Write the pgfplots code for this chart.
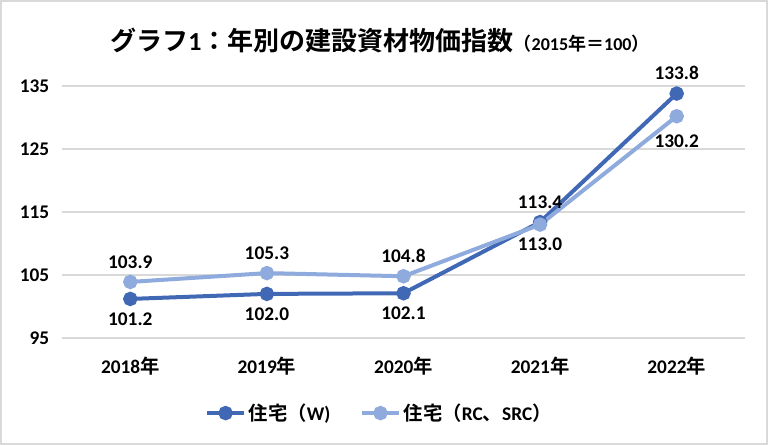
\documentclass[border=0pt]{standalone}
\usepackage{pgfplots}
\pgfplotsset{compat=1.18}
\usepackage{pgfplotstable}
\usepackage{fontspec}
\setmainfont{Carlito}
\newfontfamily\jp{Noto Sans CJK JP}[BoldFont={* Bold}]
\definecolor{cW}{RGB}{64,104,181}
\definecolor{cR}{RGB}{143,170,220}
\definecolor{gridc}{RGB}{217,217,217}

\pgfplotstableread{
x y
0 101.2
1 102.0
2 102.1
3 113.4
4 133.8
}\Wdata
\pgfplotstableread{
x y
0 103.9
1 105.3
2 104.8
3 113.0
4 130.2
}\Rdata

\begin{document}
\begin{tikzpicture}[x=1pt,y=1pt]
\useasboundingbox (0,0) rectangle (576,333.75);
\draw[gridc, line width=1.2pt] (0.6,0.6) rectangle (575.4,333.15);
\node[font=\bfseries] at (285,303.5) {{\jp\fontsize{19.5}{22}\selectfont グラフ}{\fontsize{19.5}{22}\selectfont 1}{\jp\fontsize{19.5}{22}\selectfont ：年別の建設資材物価指数}{\jp\fontsize{13.5}{15}\selectfont （}{\fontsize{13.5}{15}\selectfont 2015}{\jp\fontsize{13.5}{15}\selectfont 年＝}{\fontsize{13.5}{15}\selectfont 100}{\jp\fontsize{13.5}{15}\selectfont ）}};
\begin{axis}[
  at={(46.5pt,80.25pt)}, anchor=south west,
  scale only axis, width=512.25pt, height=189pt,
  xmin=-0.5, xmax=4.5, ymin=95, ymax=135,
  xtick={0,1,2,3,4},
  xticklabels={2018{\jp 年},2019{\jp 年},2020{\jp 年},2021{\jp 年},2022{\jp 年}},
  ytick={95,105,115,125,135},
  ymajorgrids, grid style={gridc, line width=0.9pt},
  axis line style={draw=none},
  major tick length=0pt,
  tick label style={font=\fontsize{14.5}{16}\selectfont\bfseries},
  /pgf/number format/assume math mode=true,
  yticklabel style={xshift=-6pt},
  xticklabel style={yshift=-11pt},
  clip=false,
  legend style={at={(0.465,-0.298)}, anchor=center, draw=none, fill=none,
    legend columns=2, font=\fontsize{14.5}{16}\selectfont\bfseries,
    /tikz/every even column/.append style={column sep=20pt}},
  legend image code/.code={\draw[mark repeat=2,mark phase=2,#1] plot coordinates {(0pt,0pt) (14pt,0pt) (28pt,0pt)};},
  legend cell align=left,
  lbl/.style={draw=none, mark=none, forget plot, point meta=y,
    nodes near coords={\pgfmathprintnumber[fixed,fixed zerofill,precision=1,assume math mode=true]{\pgfplotspointmeta}},
    every node near coord/.append style={anchor=#1, font=\fontsize{14.5}{16}\selectfont\bfseries, inner sep=10pt, text=black}},
]
\addplot[cW, line width=3pt, mark=*, mark size=3.9pt, mark options={fill=cW, draw=cW}] table[x=x,y=y]{\Wdata};
\addlegendentry{{\jp 住宅（}W)}
\addplot[cR, line width=3pt, mark=*, mark size=3.9pt, mark options={fill=cR, draw=cR}] table[x=x,y=y]{\Rdata};
\addlegendentry{{\jp 住宅（}RC{\jp 、}SRC{\jp ）}}
% data labels
\addplot[lbl=north] coordinates {(0,101.2) (1,102.0) (2,102.1)};
\addplot[lbl=south] coordinates {(3,113.4) (4,133.8)};
\addplot[lbl=south] coordinates {(0,103.9) (1,105.3) (2,104.8)};
\addplot[lbl=north] coordinates {(3,113.0)};
\addplot[lbl=north, every node near coord/.append style={yshift=-4pt}] coordinates {(4,130.2)};
\end{axis}
\end{tikzpicture}
\end{document}
